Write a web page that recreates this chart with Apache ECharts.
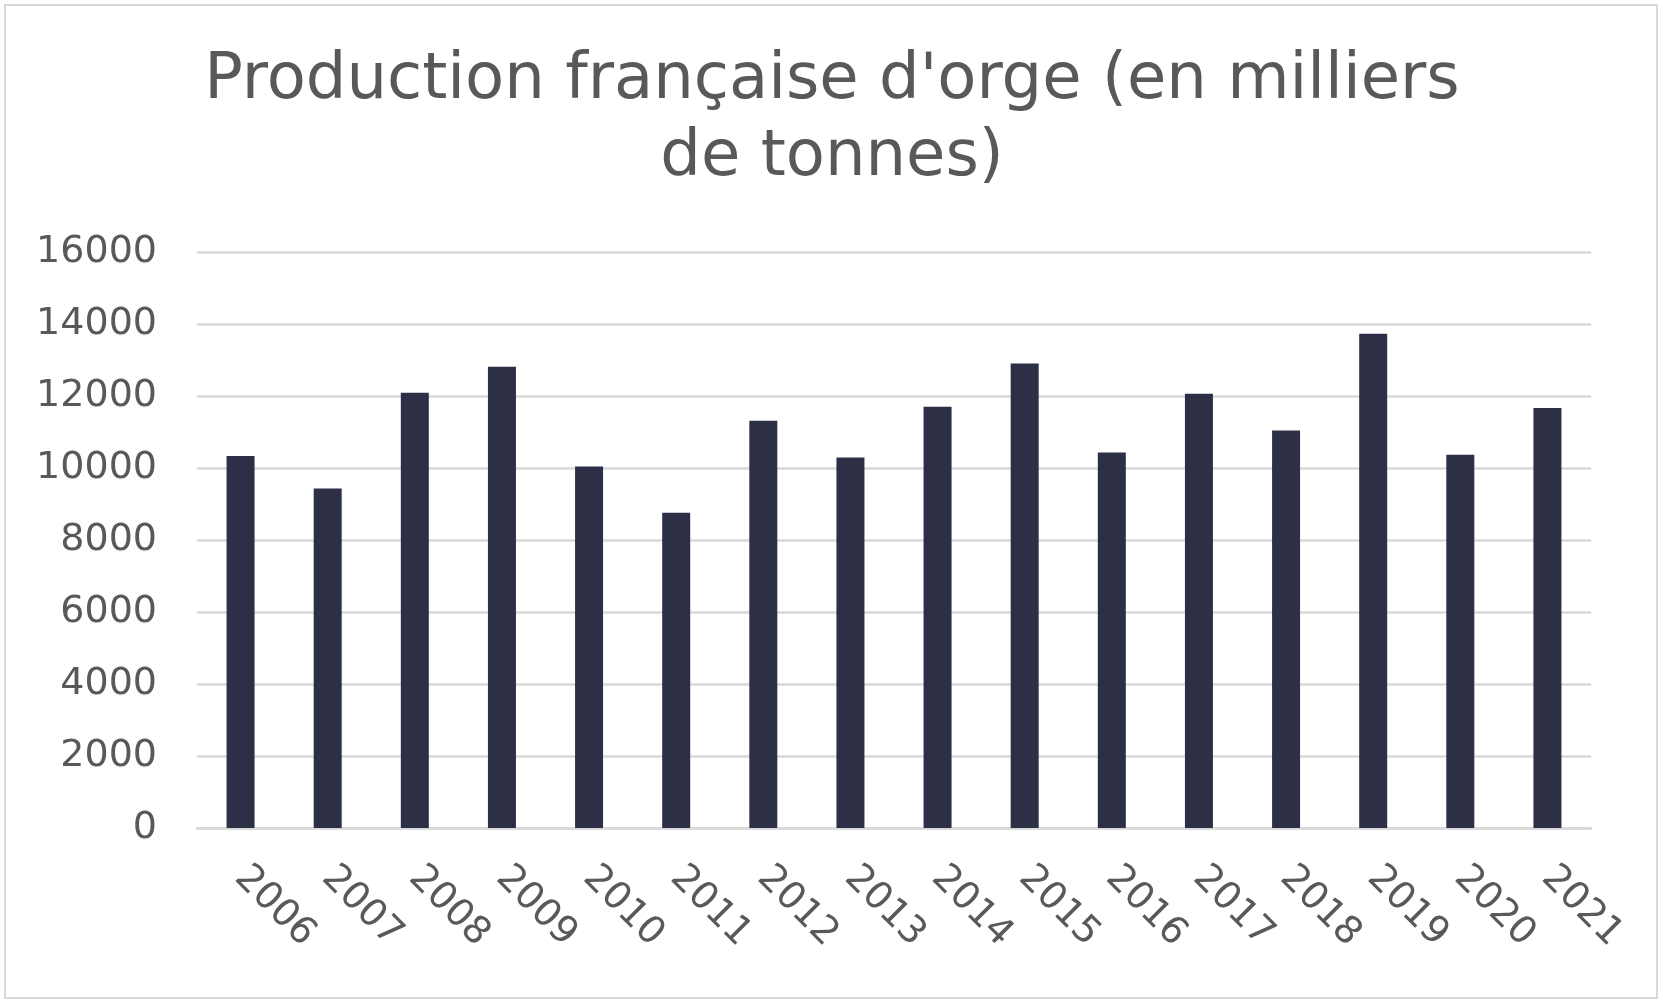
<!DOCTYPE html>
<html>
<head>
<meta charset="utf-8">
<script src="https://cdn.jsdelivr.net/npm/echarts@6/dist/echarts.min.js"></script>
<style>
html,body{margin:0;padding:0;background:#fff;}
#chart{width:1663px;height:1003px;}
</style>
</head>
<body>
<div id="chart"></div>
<script>
var titleText = "Production française d'orge (en milliers\nde tonnes)";
var years = ['2006','2007','2008','2009','2010','2011','2012','2013','2014','2015','2016','2017','2018','2019','2020','2021'];
var production = [10330, 9430, 12090, 12810, 10040, 8760, 11310, 10290, 11700, 12900, 10430, 12060, 11040, 13730, 10370, 11670];
var yTicks = [0, 2000, 4000, 6000, 8000, 10000, 12000, 14000, 16000];

var chart = echarts.init(document.getElementById('chart'));
var font = 'DejaVu Sans';
chart.setOption({
  backgroundColor: '#ffffff',
  animation: false,
  graphic: [{
    type: 'rect',
    shape: {x: 5, y: 5, width: 1652, height: 993},
    style: {fill: 'none', stroke: '#d9d9d9', lineWidth: 2}
  }, {
    type: 'text',
    x: 832,
    y: 43,
    style: {
      text: titleText,
      align: 'center',
      verticalAlign: 'top',
      font: 'normal 64px "DejaVu Sans"',
      fill: '#595959',
      lineHeight: 77
    }
  }],
  grid: {left: 197, right: 72, top: 252, bottom: 175, containLabel: false},
  xAxis: {
    type: 'category',
    data: years,
    axisLine: {show: true, lineStyle: {color: '#d9d9d9', width: 2.5}},
    axisTick: {show: false},
    axisLabel: {
      rotate: -45,
      margin: 44,
      fontFamily: font,
      fontSize: 38,
      color: '#595959',
      interval: 0
    }
  },
  yAxis: {
    type: 'value',
    min: yTicks[0],
    max: yTicks[yTicks.length - 1],
    interval: 2000,
    axisLine: {show: false},
    axisTick: {show: false},
    splitLine: {lineStyle: {color: '#d9d9d9', width: 2.5}},
    axisLabel: {
      margin: 40,
      fontFamily: font,
      fontSize: 38,
      color: '#595959',
      formatter: function (v) { return String(v); }
    }
  },
  series: [{
    type: 'bar',
    data: production,
    barWidth: 28,
    itemStyle: {color: '#2d2f47'}
  }]
});
</script>
</body>
</html>
